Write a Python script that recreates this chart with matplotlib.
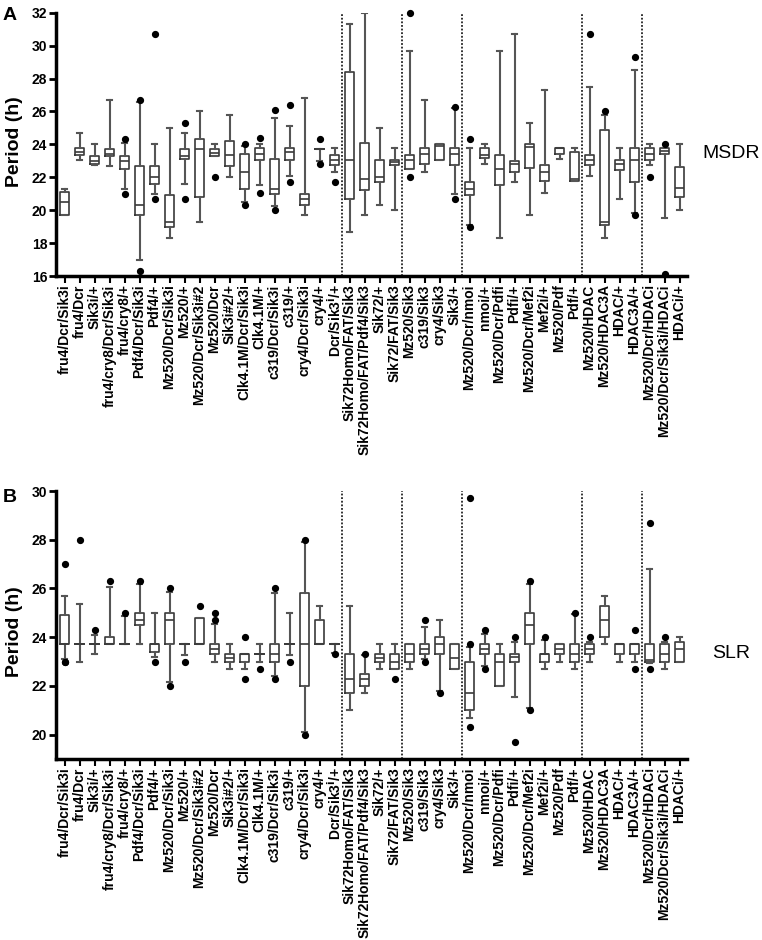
import matplotlib
matplotlib.use('Agg')
import matplotlib.pyplot as plt

plt.rcParams['font.family'] = ['Liberation Sans', 'DejaVu Sans']

# genotype labels (same order in both panels)
labels = ['fru4/Dcr/Sik3i', 'fru4/Dcr', 'Sik3i/+', 'fru4/cry8/Dcr/Sik3i', 'fru4/cry8/+',
          'Pdf4/Dcr/Sik3i', 'Pdf4/+', 'Mz520/Dcr/Sik3i', 'Mz520/+', 'Mz520/Dcr/Sik3i#2',
          'Mz520/Dcr', 'Sik3i#2/+', 'Clk4.1M/Dcr/Sik3i', 'Clk4.1M/+', 'c319/Dcr/Sik3i',
          'c319/+', 'cry4/Dcr/Sik3i', 'cry4/+', 'Dcr/Sik3$^{\\mathbf{i}}$/+',
          'Sik72Homo/FAT/Sik3', 'Sik72Homo/FAT/Pdf4/Sik3', 'Sik72/+', 'Sik72/FAT/Sik3',
          'Mz520/Sik3', 'c319/Sik3', 'cry4/Sik3', 'Sik3/+',
          'Mz520/Dcr/nmoi', 'nmoi/+', 'Mz520/Dcr/Pdfi', 'Pdfi/+', 'Mz520/Dcr/Mef2i',
          'Mef2i/+', 'Mz520/Pdf', 'Pdf/+',
          'Mz520/HDAC', 'Mz520/HDAC3A', 'HDAC/+', 'HDAC3A/+',
          'Mz520/Dcr/HDACi', 'Mz520/Dcr/Sik3i/HDACi', 'HDACi/+']

# group separators (dotted lines) after these label indices
group_ends = [18, 22, 26, 34, 38]

# panel A: MSDR  (whisker low, q1, median, q3, whisker high, outliers)
msdr_wlo = [19.7, 23.05, 22.75, 22.7, 21.3, 17.0, 21.0, 18.3, 21.6, 19.3,
            23.3, 22.0, 20.5, 21.5, 20.25, 22.05, 19.7, 23.0, 22.3,
            18.7, 19.7, 20.3, 20.0, 22.5, 22.3, 23.05, 21.0,
            19.1, 22.8, 18.3, 21.7, 19.7, 21.05, 23.1, 21.8,
            22.05, 18.3, 20.7, 19.8, 22.75, 19.5, 20.0]
msdr_q1 = [19.7, 23.35, 22.8, 23.3, 22.5, 19.7, 21.6, 19.0, 23.1, 20.8,
           23.3, 22.7, 21.3, 23.05, 21.0, 23.05, 20.3, 23.7, 22.75,
           20.65, 21.2, 21.7, 22.75, 22.5, 22.8, 23.05, 22.75,
           20.9, 23.15, 21.5, 22.35, 22.55, 21.8, 23.4, 21.8,
           22.75, 19.1, 22.45, 21.7, 23.05, 23.4, 20.8]
msdr_med = [20.5, 23.55, 23.0, 23.4, 23.0, 20.3, 22.0, 19.3, 23.3, 23.7,
            23.5, 23.35, 22.3, 23.4, 21.3, 23.55, 20.7, 23.7, 23.05,
            23.05, 21.9, 22.0, 22.9, 23.05, 23.4, 23.9, 23.4,
            21.3, 23.35, 22.5, 22.8, 23.85, 22.35, 23.75, 21.9,
            23.05, 19.3, 22.8, 23.05, 23.4, 23.6, 21.35]
msdr_q3 = [21.1, 23.75, 23.3, 23.7, 23.3, 22.7, 22.7, 20.9, 23.7, 24.3,
           23.7, 24.2, 23.4, 23.75, 23.1, 23.8, 21.0, 23.7, 23.35,
           28.4, 24.1, 23.05, 23.05, 23.35, 23.8, 24.05, 23.8,
           21.7, 23.75, 23.35, 23.0, 24.05, 22.75, 23.75, 23.55,
           23.35, 24.9, 23.05, 23.8, 23.8, 23.8, 22.65]
msdr_whi = [21.3, 24.7, 24.0, 26.7, 24.1, 26.6, 24.0, 25.0, 24.7, 26.0,
            24.0, 25.8, 23.9, 24.0, 25.6, 25.1, 26.8, 23.7, 23.8,
            31.3, 32.0, 25.0, 23.8, 29.7, 26.7, 24.05, 26.2,
            23.8, 24.05, 29.7, 30.7, 25.3, 27.3, 23.75, 23.75,
            27.5, 25.8, 23.8, 28.5, 24.05, 23.8, 24.05]
msdr_out = [[], [], [], [], [24.3, 21.0], [26.7, 16.3], [30.7, 20.7], [], [25.3, 20.7], [],
            [22.0], [], [24.05, 20.3], [24.4, 21.05], [26.1, 20.0], [26.4, 21.7], [], [24.3, 22.8], [21.7],
            [], [], [], [], [32.0, 22.0], [], [], [26.3, 20.7],
            [24.3, 19.0], [], [], [], [], [], [], [],
            [30.7], [26.0], [], [29.3, 19.7], [22.0], [24.05, 16.1], []]

# panel B: SLR
slr_wlo = [23.1, 23.0, 23.3, 23.7, 23.7, 23.7, 23.2, 22.15, 23.25, 23.7,
           23.0, 22.7, 22.7, 23.0, 22.4, 23.25, 20.1, 23.7, 23.35,
           21.0, 21.7, 22.7, 22.7, 22.7, 23.1, 21.8, 22.7,
           20.7, 22.8, 22.0, 21.55, 21.1, 22.7, 23.0, 22.7,
           23.0, 23.7, 23.0, 23.0, 22.95, 22.7, 23.0]
slr_q1 = [23.7, 23.7, 23.7, 23.7, 23.7, 24.5, 23.4, 23.7, 23.7, 23.7,
          23.3, 23.0, 23.0, 23.3, 23.0, 23.7, 22.0, 23.7, 23.7,
          21.7, 22.0, 23.0, 22.7, 23.0, 23.3, 23.3, 22.7,
          21.0, 23.3, 22.0, 23.0, 23.7, 23.0, 23.3, 23.0,
          23.3, 24.0, 23.3, 23.3, 23.0, 23.0, 23.0]
slr_med = [23.7, 23.7, 23.7, 23.7, 23.7, 24.7, 23.7, 24.7, 23.7, 23.7,
           23.5, 23.15, 23.3, 23.3, 23.3, 23.7, 23.7, 23.7, 23.7,
           22.3, 22.3, 23.15, 23.0, 23.3, 23.5, 23.7, 23.15,
           21.7, 23.5, 23.0, 23.2, 24.5, 23.3, 23.5, 23.3,
           23.5, 24.7, 23.7, 23.7, 23.05, 23.3, 23.5]
slr_q3 = [24.9, 23.7, 23.7, 24.0, 23.7, 25.0, 23.7, 25.0, 23.7, 24.78,
          23.7, 23.3, 23.3, 23.3, 23.7, 23.7, 25.8, 24.7, 23.7,
          23.3, 22.5, 23.3, 23.3, 23.7, 23.7, 24.0, 23.7,
          23.0, 23.7, 23.3, 23.3, 25.0, 23.3, 23.7, 23.7,
          23.7, 25.3, 23.7, 23.7, 23.7, 23.7, 23.8]
slr_whi = [25.7, 25.35, 24.1, 26.05, 24.85, 26.2, 25.0, 25.85, 23.7, 24.78,
           24.56, 23.7, 23.3, 23.7, 25.8, 25.0, 27.9, 25.3, 23.7,
           25.3, 23.25, 23.7, 23.7, 23.7, 24.4, 24.7, 23.7,
           23.6, 24.15, 23.7, 23.8, 26.2, 23.9, 23.7, 24.95,
           23.8, 25.7, 23.7, 23.7, 26.8, 23.8, 24.0]
slr_out = [[27.0, 23.0, 23.0], [28.0], [24.3], [26.3], [25.0], [26.3], [23.0], [26.0, 22.0], [23.0], [25.3],
           [25.0, 24.7], [], [24.0, 22.3], [22.7], [26.0, 22.3], [23.0], [28.0, 20.0], [], [23.3],
           [], [23.3], [], [22.3], [], [24.7, 23.0], [21.7], [],
           [29.7, 23.7, 20.3], [24.3, 22.7], [], [24.0, 19.7], [26.3, 21.0], [24.0], [], [25.0],
           [24.0], [], [], [24.3, 22.7], [28.7, 22.7], [24.0], []]


def make_stats(wlo, q1, med, q3, whi, out):
    stats = []
    for i in range(len(wlo)):
        stats.append({'whislo': wlo[i], 'q1': q1[i], 'med': med[i], 'q3': q3[i],
                      'whishi': whi[i], 'fliers': out[i]})
    return stats


def draw_panel(ax, stats, ylim, yticks):
    pos = list(range(len(labels)))
    parts = ax.bxp(stats, positions=pos, widths=0.62, capwidths=0.32,
                   boxprops=dict(color='#3a3a3a', linewidth=1.2),
                   medianprops=dict(color='#3a3a3a', linewidth=1.2),
                   whiskerprops=dict(color='#555555', linewidth=1.5),
                   capprops=dict(color='#555555', linewidth=1.5),
                   flierprops=dict(marker='o', markerfacecolor='black',
                                   markeredgecolor='black', markersize=4.2))
    for f in parts['fliers']:
        f.set_clip_on(False)
    for g in group_ends:
        ax.axvline(g + 0.5, color='#222222', linestyle=(0, (1, 1)), linewidth=1.3)

    ax.set_xlim(-0.6, 41.5)
    ax.set_ylim(*ylim)
    ax.set_yticks(yticks)
    ax.set_yticklabels([str(t) for t in yticks], fontsize=10, fontweight='bold')
    ax.set_xticks(pos)
    ax.set_xticklabels(labels, rotation=90, fontsize=10, fontweight='bold')
    for s in ['top', 'right']:
        ax.spines[s].set_visible(False)
    for s in ['left', 'bottom']:
        ax.spines[s].set_linewidth(2.5)
    ax.tick_params(axis='x', length=5, width=1.5, pad=1)
    ax.tick_params(axis='y', length=5, width=2, pad=1)


fig = plt.figure(figsize=(7.62, 9.4), dpi=100)
W, H = 762.0, 940.0
left = 55.5 / W
width = (687 - 55.5) / W

axA = fig.add_axes([left, 1 - 276 / H, width, (276 - 12.7) / H])
draw_panel(axA, make_stats(msdr_wlo, msdr_q1, msdr_med, msdr_q3, msdr_whi, msdr_out),
           (16, 32), [16, 18, 20, 22, 24, 26, 28, 30, 32])

axB = fig.add_axes([left, 1 - 759 / H, width, (759 - 491) / H])
draw_panel(axB, make_stats(slr_wlo, slr_q1, slr_med, slr_q3, slr_whi, slr_out),
           (19, 30), [20, 22, 24, 26, 28, 30])

# y axis titles
fig.text(15 / W, 1 - 142 / H, 'Period (h)', fontsize=14, fontweight='bold',
         rotation=90, ha='center', va='center')
fig.text(15 / W, 1 - 632 / H, 'Period (h)', fontsize=14, fontweight='bold',
         rotation=90, ha='center', va='center')

fig.text(702 / W, 1 - 154 / H, 'MSDR', fontsize=14, va='center', ha='left')
fig.text(712 / W, 1 - 654 / H, 'SLR', fontsize=14, va='center', ha='left')
fig.text(3 / W, 1 - 7 / H, 'A', fontsize=14, fontweight='bold', va='top', ha='left')
fig.text(3 / W, 1 - 489 / H, 'B', fontsize=14, fontweight='bold', va='top', ha='left')

plt.savefig('out.png', dpi=100)
